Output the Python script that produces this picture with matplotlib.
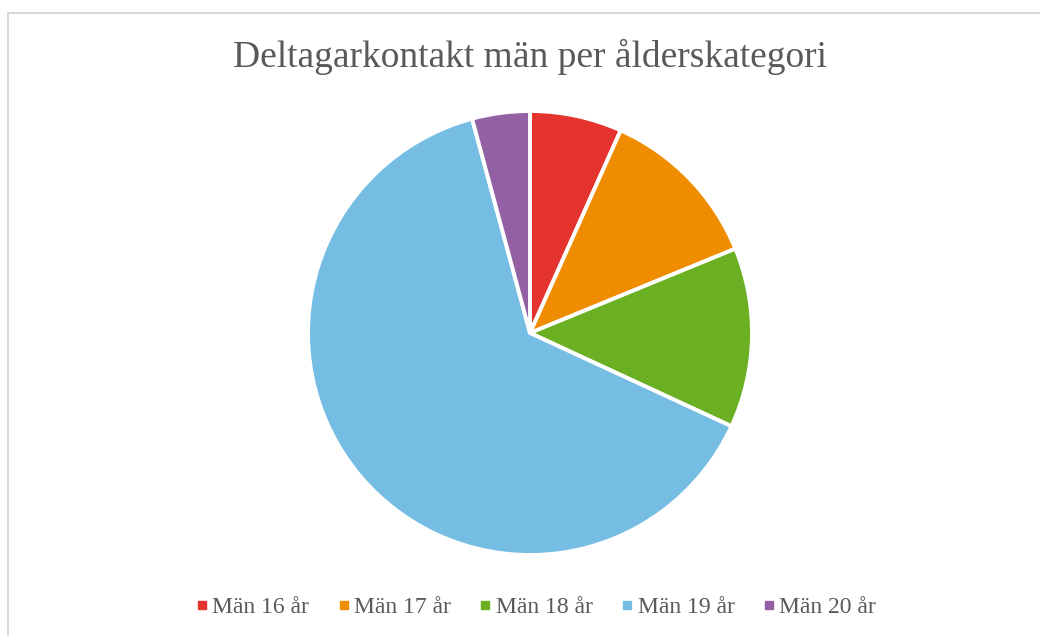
import matplotlib.pyplot as plt
from matplotlib.lines import Line2D

# andel deltagarkontakt per ålderskategori (avläst, procent)
labels = ['Män 16 år', 'Män 17 år', 'Män 18 år', 'Män 19 år', 'Män 20 år']
values = [6.7, 12.1, 13.1, 63.9, 4.2]
colors = ['#E5342F', '#EF8C00', '#6BB022', '#76BDE4', '#9361A3']

plt.rcParams['font.family'] = ['Liberation Serif', 'DejaVu Serif']

fig = plt.figure(figsize=(10.4, 6.36), dpi=100)
W, H = 1040, 636

# ram runt diagrammet
fig.add_artist(Line2D([8 / W, 8 / W], [0, 1 - 12.5 / H], transform=fig.transFigure,
                      color='#D9D9D9', lw=1.5))
fig.add_artist(Line2D([8 / W, 1], [1 - 12.5 / H, 1 - 12.5 / H], transform=fig.transFigure,
                      color='#D9D9D9', lw=1.5))

cx, cy, r = 530, 333, 222
ax = fig.add_axes([(cx - r) / W, (H - cy - r) / H, 2 * r / W, 2 * r / H])
ax.pie(values, colors=colors, startangle=90, counterclock=False, radius=1,
       wedgeprops=dict(edgecolor='white', linewidth=2.8))
ax.set_xlim(-1, 1)
ax.set_ylim(-1, 1)
ax.set_aspect('equal')
ax.axis('off')

fig.text(cx / W, 1 - 57 / H, 'Deltagarkontakt män per ålderskategori',
         ha='center', va='center', fontsize=27, color='#595959')

handles = [Line2D([], [], marker='s', linestyle='', markersize=6, color=c) for c in colors]
fig.legend(handles, labels, loc='center', bbox_to_anchor=(536 / W, 1 - 607 / H),
           ncol=5, frameon=False, fontsize=17, handletextpad=0.2, columnspacing=1.2,
           handlelength=0.5, labelcolor='#595959')

fig.savefig('out.png', dpi=100)
